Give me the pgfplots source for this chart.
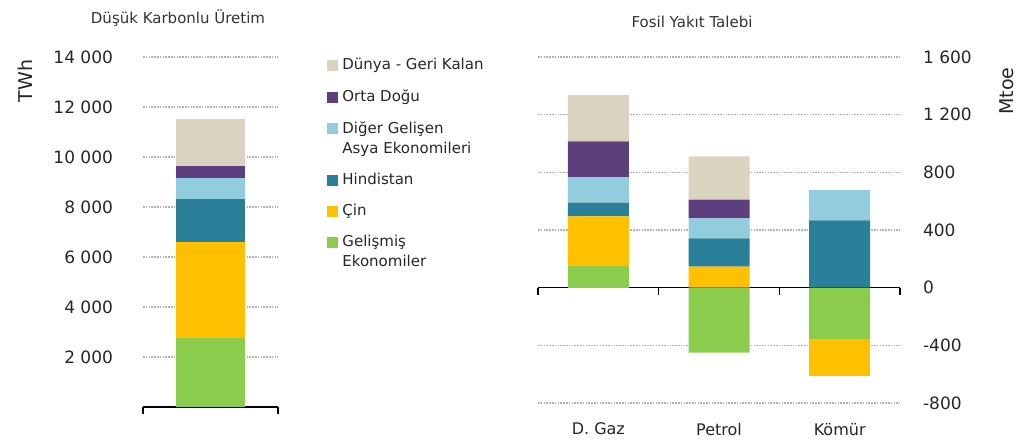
\documentclass[border=0pt]{standalone}
\usepackage{fontspec}
\setmainfont{DejaVu Sans}
\usepackage{pgfplots}
\pgfplotsset{compat=1.18}

\definecolor{cBeige}{RGB}{217,212,192}
\definecolor{cPurple}{RGB}{94,63,125}
\definecolor{cLBlue}{RGB}{146,205,221}
\definecolor{cTeal}{RGB}{41,128,152}
\definecolor{cYellow}{RGB}{255,192,0}
\definecolor{cGreen}{RGB}{140,204,76}

\pgfplotsset{
  gridstyle/.style={ymajorgrids, grid style={gray!60, dash pattern=on 0.8pt off 0.6pt, line width=0.6pt}},
  twoline/.style={legend image code/.code={\fill[##1] (0pt,2.25pt) rectangle (5.5pt,7.75pt);}},
}

\begin{document}
\begin{tikzpicture}
\path[use as bounding box] (0,0) rectangle (512pt,221pt);

% left: low-carbon generation
\begin{axis}[
  at={(71.5pt,17.5pt)}, anchor=south west, scale only axis,
  width=67.5pt, height=175pt,
  ybar stacked, bar width=34.5pt,
  xmin=-0.5, xmax=0.5, ymin=0, ymax=14000,
  axis x line*=bottom, axis y line*=left,
  y axis line style={draw=none}, ytick style={draw=none},
  x axis line style={black, line width=0.75pt},
  xtick={-0.5,0.5}, xticklabels={},
  xtick style={black, line width=0.75pt}, tick align=outside, major tick length=3.5pt,
  ytick={2000,4000,...,14000},
  gridstyle,
  yticklabel style={font=\fontsize{8.5}{10}\selectfont, xshift=-8pt, text=black!85},
  /pgf/number format/assume math mode=true,
  /pgf/number format/1000 sep={\ },
  scaled y ticks=false,
  clip=false,
  reverse legend=true,
  legend image code/.code={\fill[#1] (0pt,-2.75pt) rectangle (5.5pt,2.75pt);},
  legend style={at={(1.363,1.008)}, anchor=north west, draw=none, fill=none,
    inner sep=0pt, row sep=4.4pt,
    font=\fontsize{7.5}{10}\selectfont, text=black!85,
    cells={anchor=west, align=left}},
]
\addplot[fill=cGreen, draw=none, twoline] coordinates {(0,2750)};
\addplot[fill=cYellow, draw=none] coordinates {(0,3850)};
\addplot[fill=cTeal, draw=none] coordinates {(0,1720)};
\addplot[fill=cLBlue, draw=none, twoline] coordinates {(0,840)};
\addplot[fill=cPurple, draw=none] coordinates {(0,480)};
\addplot[fill=cBeige, draw=none] coordinates {(0,1880)};
\legend{Gelişmiş\\Ekonomiler, Çin, Hindistan, Diğer Gelişen\\Asya Ekonomileri, Orta Doğu, Dünya - Geri Kalan}
\end{axis}

% right: fossil fuel demand, negative parts
\begin{axis}[
  at={(269pt,19.5pt)}, anchor=south west, scale only axis,
  width=181pt, height=173pt,
  ybar stacked, bar width=30.5pt,
  xmin=0.5, xmax=3.5, ymin=-800, ymax=1600,
  axis x line*=bottom, axis y line*=right,
  x axis line style={draw=none}, xtick style={draw=none},
  y axis line style={draw=none}, ytick style={draw=none},
  xtick={1,2,3}, xticklabels={D. Gaz, Petrol, Kömür},
  xticklabel style={font=\fontsize{8}{10}\selectfont, yshift=-6.5pt, text=black!85},
  ytick={-800,-400,0,400,800,1200,1600},
  yticklabels={-800,-400,0,400,800,1\ 200,1\ 600},
  yticklabel style={font=\fontsize{8.5}{10}\selectfont, xshift=8pt, text=black!85},
  gridstyle,
]
\addplot[fill=cGreen, draw=none] coordinates {(1,0) (2,-450) (3,-355)};
\addplot[fill=cYellow, draw=none] coordinates {(1,0) (2,0) (3,-257)};
\end{axis}

% right: positive parts
\begin{axis}[
  at={(269pt,19.5pt)}, anchor=south west, scale only axis,
  width=181pt, height=173pt,
  ybar stacked, bar width=30.5pt,
  xmin=0.5, xmax=3.5, ymin=-800, ymax=1600,
  hide axis, clip=false,
]
\addplot[fill=cGreen, draw=none] coordinates {(1,150) (2,0) (3,0)};
\addplot[fill=cYellow, draw=none] coordinates {(1,345) (2,146) (3,0)};
\addplot[fill=cTeal, draw=none] coordinates {(1,95) (2,195) (3,466)};
\addplot[fill=cLBlue, draw=none] coordinates {(1,175) (2,140) (3,210)};
\addplot[fill=cPurple, draw=none] coordinates {(1,250) (2,130) (3,0)};
\addplot[fill=cBeige, draw=none] coordinates {(1,320) (2,300) (3,0)};
\draw[black, line width=0.75pt] (axis cs:0.5,0) -- (axis cs:3.5,0);
\pgfplotsinvokeforeach{0.5,1.5,2.5,3.5}{\draw[black, line width=0.75pt] (axis cs:#1,0) -- ++(0pt,-3.5pt);}
\end{axis}

\node[font=\fontsize{7.5}{9}\selectfont, text=black!80] at (89pt,212pt) {Düşük Karbonlu Üretim};
\node[font=\fontsize{7.5}{9}\selectfont, text=black!80] at (346pt,210pt) {Fosil Yakıt Talebi};
\node[rotate=90, font=\fontsize{9.5}{11}\selectfont, text=black!85] at (12.5pt,180.5pt) {TWh};
\node[rotate=90, font=\fontsize{9.5}{11}\selectfont, text=black!85] at (503.5pt,175.5pt) {Mtoe};
\end{tikzpicture}
\end{document}
